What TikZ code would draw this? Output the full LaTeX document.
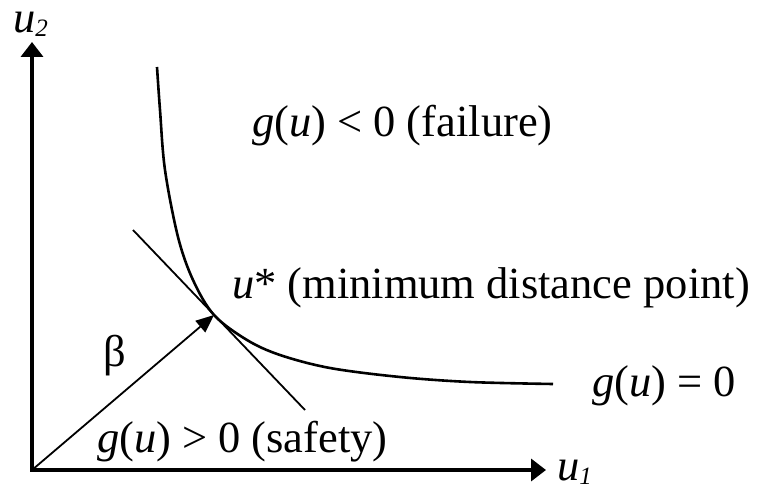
\documentclass[tikz,border=0pt]{standalone}
\usepackage{fontspec}
\setmainfont{Liberation Serif}
\usetikzlibrary{arrows.meta}
\newcommand{\subsc}[1]{\raisebox{-4pt}{\fontsize{25}{25}\selectfont\textit{#1}}}
\begin{document}
\begin{tikzpicture}[x=1pt,y=-1pt,
  lbl/.style={inner sep=0pt,outer sep=0pt,font=\fontsize{44.5}{50}\selectfont},
  axisline/.style={line width=3.6pt,-{Triangle[length=15pt,width=22pt]}},
  thinline/.style={line width=1.8pt},
  curveline/.style={line width=2.6pt}]
\useasboundingbox (0,0) rectangle (778,489);
% key points
\coordinate (O) at (32,470);
\coordinate (Ytip) at (32,42);
\coordinate (Xtip) at (546,470);
\coordinate (T) at (214,315);
\coordinate (L1) at (133,230);
\coordinate (L2) at (305,410);
% axes
\draw[axisline] ([yshift=1.8pt]O) -- (Ytip);
\draw[axisline] ([xshift=-1.8pt]O) -- (Xtip);
% limit state curve
\draw[curveline] plot[smooth,tension=0.55] coordinates {(157,67) (160,110) (165,170) (178,237) (193,280) (214,315) (247,340) (280,355) (330,368) (400,377) (470,382) (553,384)};
% tangent line
\draw[thinline] (L1) -- (L2);
% beta vector
\draw[thinline,-{Triangle[length=18pt,width=15pt]}] (O) -- (T);
% labels
\node[lbl,anchor=base west,text height=21pt] (u2) at (13,33) {\textit{u}\subsc{2}};
\node[lbl,anchor=base west] (u1) at (557,480) {\textit{u}\subsc{1}};
\node[lbl,anchor=base west] (fail) at (252,137) {\textit{g}(\textit{u}) < 0 (failure)};
\node[lbl,anchor=base west] (ustar) at (232,298) {\textit{u}* (minimum distance point)};
\node[lbl,anchor=base] (beta) at (115,366) {β};
\node[lbl,anchor=base west] (safe) at (97,452) {\textit{g}(\textit{u}) > 0 (safety)};
\node[lbl,anchor=base west] (lim) at (592,396) {\textit{g}(\textit{u}) = 0};
\end{tikzpicture}
\end{document}
